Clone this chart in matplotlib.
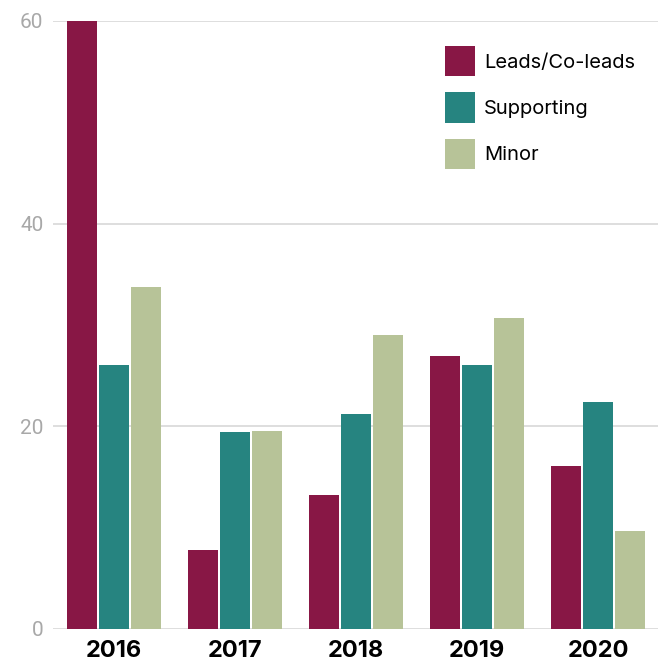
import numpy as np
import matplotlib
matplotlib.use('Agg')
import matplotlib.pyplot as plt

plt.rcParams['font.family'] = ['Inter', 'DejaVu Sans']

years = ['2016', '2017', '2018', '2019', '2020']
leads = [60, 7.8, 13.25, 26.9, 16.1]
supporting = [26.05, 19.45, 21.25, 26.1, 22.45]
minor = [33.75, 19.55, 29.05, 30.7, 9.7]

series = [
    ('Leads/Co-leads', leads, '#881745'),
    ('Supporting', supporting, '#268480'),
    ('Minor', minor, '#b7c398'),
]

fig = plt.figure(figsize=(6.58, 6.61), dpi=100)
ax = fig.add_axes([53 / 658, 32 / 661, 605 / 658, 608 / 661])

x = np.arange(len(years))
width = 0.248
step = 0.264
for i, (name, vals, col) in enumerate(series):
    ax.bar(x + (i - 1) * step, vals, width, color=col, label=name, zorder=3)

ax.set_xlim(-0.505, 4.495)
ax.set_ylim(0, 60)
ax.set_yticks([0, 20, 40, 60])
ax.set_yticklabels(['0', '20', '40', '60'], family='Roboto', fontsize=15,
                   color='#a8a8a8')
ax.set_xticks(x)
ax.set_xticklabels(years, fontsize=17, fontweight='bold', color='black')
ax.tick_params(axis='y', length=0, pad=7)
ax.tick_params(axis='x', length=0, pad=8)
ax.grid(axis='y', color='#d4d4d4', linewidth=1.1, zorder=0)
ax.set_axisbelow(True)
for s in ax.spines.values():
    s.set_visible(False)

ax.legend(loc='upper left', bbox_to_anchor=(445 / 658, 1 - 46 / 661),
          bbox_transform=fig.transFigure, frameon=False, fontsize=14.5,
          handlelength=1.49, handleheight=1.95, handletextpad=0.45,
          labelspacing=0.79, borderpad=0, borderaxespad=0)

fig.savefig('out.png', dpi=100)
